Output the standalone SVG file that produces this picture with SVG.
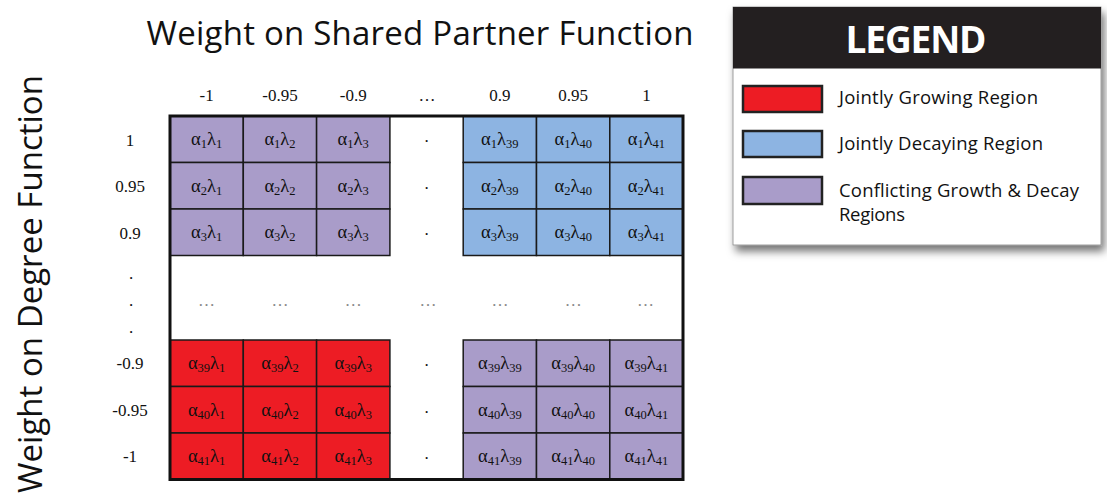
<svg xmlns="http://www.w3.org/2000/svg" width="1107" height="504" viewBox="0 0 1107 504">
<defs>
<filter id="shadow" x="-10%" y="-10%" width="130%" height="140%">
<feDropShadow dx="3" dy="6" stdDeviation="4" flood-color="#000" flood-opacity="0.55"/>
</filter>
</defs>
<style>
.title{font-family:"Open Sans","DejaVu Sans",sans-serif;font-size:33px;fill:#111}
.lbl{font-family:"Liberation Serif","Times New Roman",serif;font-size:17px;fill:#111;text-anchor:middle}
.cell{font-family:"Liberation Serif","Times New Roman",serif;font-size:18.5px;fill:#111;text-anchor:middle}
.sub{font-size:12.5px}
.ell{font-family:"Liberation Serif",serif;font-size:17px;fill:#888;text-anchor:middle}
.r{fill:#ED1C24;stroke:#1a1a1a;stroke-width:1.5}
.b{fill:#8DB4E2;stroke:#1a1a1a;stroke-width:1.5}
.p{fill:#A99CC9;stroke:#1a1a1a;stroke-width:1.5}
.leg{font-family:"Open Sans","DejaVu Sans",sans-serif;font-size:18.5px;fill:#111}
.sw{stroke:#222;stroke-width:2.5}
</style>
<rect width="1107" height="504" fill="#fff"/>

<g id="title-top"><text class="title" x="420" y="45" text-anchor="middle" textLength="547">Weight on Shared Partner Function</text></g>
<g id="title-left"><text class="title" transform="translate(42,284) rotate(-90)" text-anchor="middle" textLength="418">Weight on Degree Function</text></g>

<g id="col-headers">
<text class="lbl" x="206.6" y="101">-1</text>
<text class="lbl" x="280" y="101">-0.95</text>
<text class="lbl" x="353.2" y="101">-0.9</text>
<text class="lbl" x="427" y="101">…</text>
<text class="lbl" x="499.8" y="101">0.9</text>
<text class="lbl" x="573.2" y="101">0.95</text>
<text class="lbl" x="646.4" y="101">1</text>
</g>
<g id="row-headers">
<text class="lbl" x="130" y="146">1</text>
<text class="lbl" x="130" y="192">0.95</text>
<text class="lbl" x="130" y="239">0.9</text>
<text class="lbl" x="131" y="279">.</text>
<text class="lbl" x="131" y="306">.</text>
<text class="lbl" x="131" y="333">.</text>
<text class="lbl" x="130" y="369">-0.9</text>
<text class="lbl" x="130" y="416">-0.95</text>
<text class="lbl" x="130" y="462">-1</text>
</g>

<g id="block-conflict-top">
<rect class="p" x="170" y="116" width="73.3" height="46.5"/>
<rect class="p" x="243.3" y="116" width="73.3" height="46.5"/>
<rect class="p" x="316.6" y="116" width="73.3" height="46.5"/>
<rect class="p" x="170" y="162.5" width="73.3" height="46.5"/>
<rect class="p" x="243.3" y="162.5" width="73.3" height="46.5"/>
<rect class="p" x="316.6" y="162.5" width="73.3" height="46.5"/>
<rect class="p" x="170" y="209" width="73.3" height="46.5"/>
<rect class="p" x="243.3" y="209" width="73.3" height="46.5"/>
<rect class="p" x="316.6" y="209" width="73.3" height="46.5"/>
<text class="cell" x="206.6" y="145">α<tspan class="sub" dy="3">1</tspan><tspan dy="-3">λ</tspan><tspan class="sub" dy="3">1</tspan></text>
<text class="cell" x="280" y="145">α<tspan class="sub" dy="3">1</tspan><tspan dy="-3">λ</tspan><tspan class="sub" dy="3">2</tspan></text>
<text class="cell" x="353.2" y="145">α<tspan class="sub" dy="3">1</tspan><tspan dy="-3">λ</tspan><tspan class="sub" dy="3">3</tspan></text>
<text class="cell" x="206.6" y="191.5">α<tspan class="sub" dy="3">2</tspan><tspan dy="-3">λ</tspan><tspan class="sub" dy="3">1</tspan></text>
<text class="cell" x="280" y="191.5">α<tspan class="sub" dy="3">2</tspan><tspan dy="-3">λ</tspan><tspan class="sub" dy="3">2</tspan></text>
<text class="cell" x="353.2" y="191.5">α<tspan class="sub" dy="3">2</tspan><tspan dy="-3">λ</tspan><tspan class="sub" dy="3">3</tspan></text>
<text class="cell" x="206.6" y="238">α<tspan class="sub" dy="3">3</tspan><tspan dy="-3">λ</tspan><tspan class="sub" dy="3">1</tspan></text>
<text class="cell" x="280" y="238">α<tspan class="sub" dy="3">3</tspan><tspan dy="-3">λ</tspan><tspan class="sub" dy="3">2</tspan></text>
<text class="cell" x="353.2" y="238">α<tspan class="sub" dy="3">3</tspan><tspan dy="-3">λ</tspan><tspan class="sub" dy="3">3</tspan></text>
</g>

<g id="block-decay">
<rect class="b" x="463.2" y="116" width="73.3" height="46.5"/>
<rect class="b" x="536.5" y="116" width="73.3" height="46.5"/>
<rect class="b" x="609.8" y="116" width="73.3" height="46.5"/>
<rect class="b" x="463.2" y="162.5" width="73.3" height="46.5"/>
<rect class="b" x="536.5" y="162.5" width="73.3" height="46.5"/>
<rect class="b" x="609.8" y="162.5" width="73.3" height="46.5"/>
<rect class="b" x="463.2" y="209" width="73.3" height="46.5"/>
<rect class="b" x="536.5" y="209" width="73.3" height="46.5"/>
<rect class="b" x="609.8" y="209" width="73.3" height="46.5"/>
<text class="cell" x="499.8" y="145">α<tspan class="sub" dy="3">1</tspan><tspan dy="-3">λ</tspan><tspan class="sub" dy="3">39</tspan></text>
<text class="cell" x="573.2" y="145">α<tspan class="sub" dy="3">1</tspan><tspan dy="-3">λ</tspan><tspan class="sub" dy="3">40</tspan></text>
<text class="cell" x="646.4" y="145">α<tspan class="sub" dy="3">1</tspan><tspan dy="-3">λ</tspan><tspan class="sub" dy="3">41</tspan></text>
<text class="cell" x="499.8" y="191.5">α<tspan class="sub" dy="3">2</tspan><tspan dy="-3">λ</tspan><tspan class="sub" dy="3">39</tspan></text>
<text class="cell" x="573.2" y="191.5">α<tspan class="sub" dy="3">2</tspan><tspan dy="-3">λ</tspan><tspan class="sub" dy="3">40</tspan></text>
<text class="cell" x="646.4" y="191.5">α<tspan class="sub" dy="3">2</tspan><tspan dy="-3">λ</tspan><tspan class="sub" dy="3">41</tspan></text>
<text class="cell" x="499.8" y="238">α<tspan class="sub" dy="3">3</tspan><tspan dy="-3">λ</tspan><tspan class="sub" dy="3">39</tspan></text>
<text class="cell" x="573.2" y="238">α<tspan class="sub" dy="3">3</tspan><tspan dy="-3">λ</tspan><tspan class="sub" dy="3">40</tspan></text>
<text class="cell" x="646.4" y="238">α<tspan class="sub" dy="3">3</tspan><tspan dy="-3">λ</tspan><tspan class="sub" dy="3">41</tspan></text>
</g>

<g id="block-growth">
<rect class="r" x="170" y="340" width="73.3" height="46.5"/>
<rect class="r" x="243.3" y="340" width="73.3" height="46.5"/>
<rect class="r" x="316.6" y="340" width="73.3" height="46.5"/>
<rect class="r" x="170" y="386.5" width="73.3" height="46.5"/>
<rect class="r" x="243.3" y="386.5" width="73.3" height="46.5"/>
<rect class="r" x="316.6" y="386.5" width="73.3" height="46.5"/>
<rect class="r" x="170" y="433" width="73.3" height="46.5"/>
<rect class="r" x="243.3" y="433" width="73.3" height="46.5"/>
<rect class="r" x="316.6" y="433" width="73.3" height="46.5"/>
<text class="cell" x="206.6" y="369">α<tspan class="sub" dy="3">39</tspan><tspan dy="-3">λ</tspan><tspan class="sub" dy="3">1</tspan></text>
<text class="cell" x="280" y="369">α<tspan class="sub" dy="3">39</tspan><tspan dy="-3">λ</tspan><tspan class="sub" dy="3">2</tspan></text>
<text class="cell" x="353.2" y="369">α<tspan class="sub" dy="3">39</tspan><tspan dy="-3">λ</tspan><tspan class="sub" dy="3">3</tspan></text>
<text class="cell" x="206.6" y="415.5">α<tspan class="sub" dy="3">40</tspan><tspan dy="-3">λ</tspan><tspan class="sub" dy="3">1</tspan></text>
<text class="cell" x="280" y="415.5">α<tspan class="sub" dy="3">40</tspan><tspan dy="-3">λ</tspan><tspan class="sub" dy="3">2</tspan></text>
<text class="cell" x="353.2" y="415.5">α<tspan class="sub" dy="3">40</tspan><tspan dy="-3">λ</tspan><tspan class="sub" dy="3">3</tspan></text>
<text class="cell" x="206.6" y="462">α<tspan class="sub" dy="3">41</tspan><tspan dy="-3">λ</tspan><tspan class="sub" dy="3">1</tspan></text>
<text class="cell" x="280" y="462">α<tspan class="sub" dy="3">41</tspan><tspan dy="-3">λ</tspan><tspan class="sub" dy="3">2</tspan></text>
<text class="cell" x="353.2" y="462">α<tspan class="sub" dy="3">41</tspan><tspan dy="-3">λ</tspan><tspan class="sub" dy="3">3</tspan></text>
</g>

<g id="block-conflict-bottom">
<rect class="p" x="463.2" y="340" width="73.3" height="46.5"/>
<rect class="p" x="536.5" y="340" width="73.3" height="46.5"/>
<rect class="p" x="609.8" y="340" width="73.3" height="46.5"/>
<rect class="p" x="463.2" y="386.5" width="73.3" height="46.5"/>
<rect class="p" x="536.5" y="386.5" width="73.3" height="46.5"/>
<rect class="p" x="609.8" y="386.5" width="73.3" height="46.5"/>
<rect class="p" x="463.2" y="433" width="73.3" height="46.5"/>
<rect class="p" x="536.5" y="433" width="73.3" height="46.5"/>
<rect class="p" x="609.8" y="433" width="73.3" height="46.5"/>
<text class="cell" x="499.8" y="369">α<tspan class="sub" dy="3">39</tspan><tspan dy="-3">λ</tspan><tspan class="sub" dy="3">39</tspan></text>
<text class="cell" x="573.2" y="369">α<tspan class="sub" dy="3">39</tspan><tspan dy="-3">λ</tspan><tspan class="sub" dy="3">40</tspan></text>
<text class="cell" x="646.4" y="369">α<tspan class="sub" dy="3">39</tspan><tspan dy="-3">λ</tspan><tspan class="sub" dy="3">41</tspan></text>
<text class="cell" x="499.8" y="415.5">α<tspan class="sub" dy="3">40</tspan><tspan dy="-3">λ</tspan><tspan class="sub" dy="3">39</tspan></text>
<text class="cell" x="573.2" y="415.5">α<tspan class="sub" dy="3">40</tspan><tspan dy="-3">λ</tspan><tspan class="sub" dy="3">40</tspan></text>
<text class="cell" x="646.4" y="415.5">α<tspan class="sub" dy="3">40</tspan><tspan dy="-3">λ</tspan><tspan class="sub" dy="3">41</tspan></text>
<text class="cell" x="499.8" y="462">α<tspan class="sub" dy="3">41</tspan><tspan dy="-3">λ</tspan><tspan class="sub" dy="3">39</tspan></text>
<text class="cell" x="573.2" y="462">α<tspan class="sub" dy="3">41</tspan><tspan dy="-3">λ</tspan><tspan class="sub" dy="3">40</tspan></text>
<text class="cell" x="646.4" y="462">α<tspan class="sub" dy="3">41</tspan><tspan dy="-3">λ</tspan><tspan class="sub" dy="3">41</tspan></text>
</g>

<g id="gap-fill">
<text class="lbl" x="426.5" y="142">.</text>
<text class="lbl" x="426.5" y="188.5">.</text>
<text class="lbl" x="426.5" y="235">.</text>
<text class="lbl" x="426.5" y="366">.</text>
<text class="lbl" x="426.5" y="412.5">.</text>
<text class="lbl" x="426.5" y="459">.</text>
<text class="ell" x="206.6" y="306">…</text>
<text class="ell" x="280" y="306">…</text>
<text class="ell" x="353.2" y="306">…</text>
<text class="ell" x="428" y="306">…</text>
<text class="ell" x="500" y="306">…</text>
<text class="ell" x="573.2" y="306">…</text>
<text class="ell" x="645.5" y="306">…</text>
</g>

<g id="frame">
<rect x="170" y="116" width="513" height="363.5" fill="none" stroke="#111" stroke-width="3"/>
</g>

<g id="legend">
<rect x="733" y="7" width="368" height="238" fill="#fff" stroke="#888" stroke-width="0.8" filter="url(#shadow)"/>
<rect x="733" y="7" width="368" height="61.5" fill="#231F20"/>
<text x="916" y="52.5" text-anchor="middle" font-family="'Open Sans','DejaVu Sans',sans-serif" font-weight="bold" font-size="37" fill="#fff" textLength="141">LEGEND</text>
<rect class="sw" x="743" y="86" width="79" height="26" fill="#ED1C24"/>
<rect class="sw" x="743" y="131" width="79" height="26" fill="#8DB4E2"/>
<rect class="sw" x="743" y="177" width="79" height="27" fill="#A99CC9"/>
<text class="leg" x="839" y="104" textLength="199">Jointly Growing Region</text>
<text class="leg" x="839" y="150" textLength="204">Jointly Decaying Region</text>
<text class="leg" x="839" y="196.5" textLength="240">Conflicting Growth &amp; Decay</text>
<text class="leg" x="839" y="220.5" textLength="66">Regions</text>
</g>
</svg>
